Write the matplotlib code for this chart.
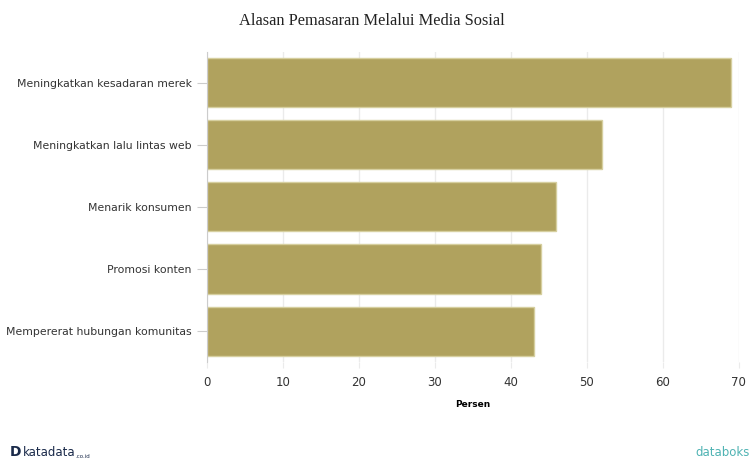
import matplotlib.pyplot as plt

alasan = ['Meningkatkan kesadaran merek',
          'Meningkatkan lalu lintas web',
          'Menarik konsumen',
          'Promosi konten',
          'Mempererat hubungan komunitas']
persen = [69, 52, 46, 44, 43]

fig = plt.figure(figsize=(7.5, 4.63), dpi=100)
ax = fig.add_axes([0.276, 0.218, 0.709, 0.67])

pos = list(range(len(alasan)))
ax.barh(pos, persen, height=0.79, color='#b0a25e',
        edgecolor='#d6cf9f', linewidth=1, zorder=2)

ax.set_ylim(4.5, -0.5)
ax.set_xlim(0, 70)
ax.set_xticks(range(0, 71, 10))
ax.set_yticks(pos)
ax.set_yticklabels(alasan)
ax.grid(axis='x', color='#ebebeb', linewidth=1, zorder=0)

for s in ['top', 'right', 'bottom']:
    ax.spines[s].set_visible(False)
ax.spines['left'].set_color('#cccccc')

ax.tick_params(axis='y', length=7, color='#cccccc', labelsize=7.8,
               labelcolor='#333333', pad=4)
ax.tick_params(axis='x', length=4, color='#ebebeb', labelsize=8.5,
               labelcolor='#333333', pad=6)

ax.set_xlabel('Persen', fontsize=6.5, fontweight='bold', labelpad=8)

fig.text(0.496, 0.955, 'Alasan Pemasaran Melalui Media Sosial',
         ha='center', va='center', family='Liberation Serif',
         fontsize=11.8, color='#222222')

fig.text(0.013, 0.008, 'D', ha='left', va='bottom', fontsize=10,
         fontweight='bold', color='#1a2a4a')
fig.text(0.03, 0.008, 'katadata', ha='left', va='bottom', fontsize=8.5,
         color='#1a2a4a')
fig.text(0.1, 0.008, '.co.id', ha='left', va='bottom', fontsize=4,
         color='#1a2a4a')
fig.text(1.0, 0.008, 'databoks', ha='right', va='bottom', fontsize=8.5,
         color='#4fb3b3')

fig.savefig('out.png', dpi=100)
